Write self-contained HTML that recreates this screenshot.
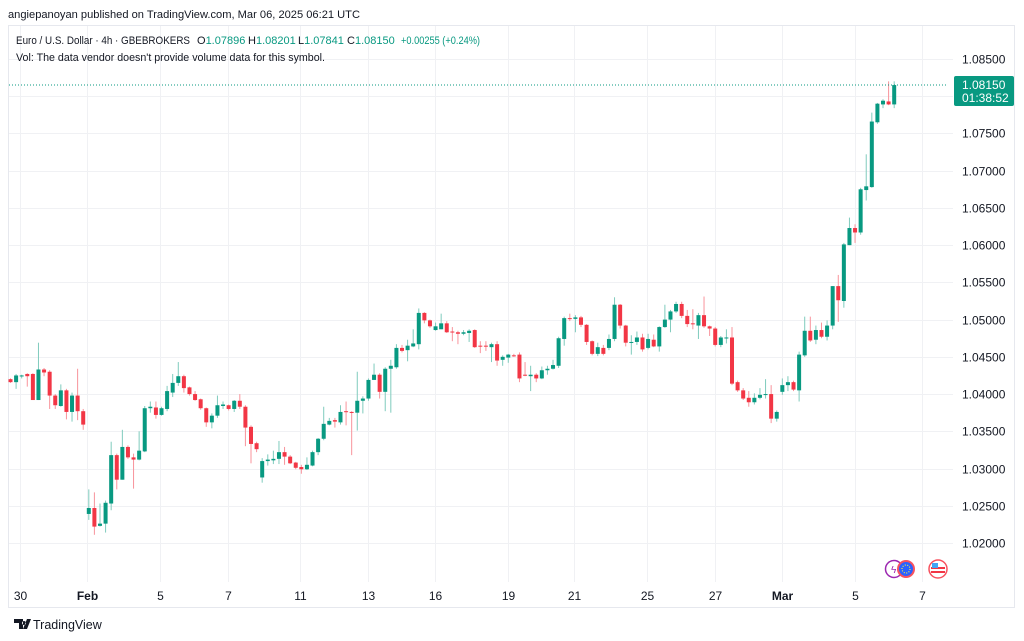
<!DOCTYPE html>
<html><head><meta charset="utf-8">
<style>
html,body{margin:0;padding:0;background:#fff;width:1024px;height:641px;overflow:hidden;font-family:"Liberation Sans","DejaVu Sans",sans-serif;}
svg{position:absolute;left:0;top:0;}
</style></head>
<body>
<svg id="chart" width="1024" height="641" viewBox="0 0 1024 641">
  <rect x="8.5" y="25.5" width="1006" height="582" fill="#fff" stroke="#e6e8ee"/>
  <g id="grid"></g>
  <g id="candles"></g>
  <g id="yaxis"></g>
  <g id="xaxis"></g>
  <text x="8" y="18" font-size="11" fill="#131722" textLength="352" lengthAdjust="spacingAndGlyphs">angiepanoyan published on TradingView.com, Mar 06, 2025 06:21 UTC</text>
  <g font-size="11">
    <text x="16" y="44" fill="#131722" textLength="174" lengthAdjust="spacingAndGlyphs">Euro / U.S. Dollar · 4h · GBEBROKERS</text>
    <text x="197" y="44" fill="#131722">O<tspan fill="#089981">1.07896</tspan></text>
    <text x="248" y="44" fill="#131722">H<tspan fill="#089981">1.08201</tspan></text>
    <text x="298" y="44" fill="#131722">L<tspan fill="#089981">1.07841</tspan></text>
    <text x="347" y="44" fill="#131722">C<tspan fill="#089981">1.08150</tspan></text>
    <text x="401" y="44" fill="#089981" textLength="79" lengthAdjust="spacingAndGlyphs">+0.00255 (+0.24%)</text>
  </g>
  <text x="16" y="61" font-size="11" fill="#131722" textLength="309" lengthAdjust="spacingAndGlyphs">Vol: The data vendor doesn't provide volume data for this symbol.</text>
  <g>
    <circle cx="894" cy="569" r="8.5" fill="#fff" stroke="#9c27b0" stroke-width="1.5"/>
    <text x="891" y="573" font-size="10" fill="#9c27b0">ϟ</text>
    <circle cx="906" cy="569" r="9" fill="#f7525f"/>
    <circle cx="906" cy="569" r="7" fill="#2962ff"/>
    <circle cx="906" cy="569" r="4" fill="none" stroke="#ffeb3b" stroke-width="1.2" stroke-dasharray="1 1.5"/>
    <circle cx="938" cy="569" r="9" fill="#fff" stroke="#f7525f" stroke-width="1.5"/>
    <rect x="932" y="563" width="12" height="12" rx="5" fill="#fff"/>
    <rect x="931" y="567" width="14" height="2" fill="#f23645"/>
    <rect x="931" y="571" width="14" height="2" fill="#f23645"/>
    <rect x="932" y="563" width="6" height="5" fill="#42a5f5"/>
  </g>
  <g>
    <path d="M14 619h9v10h-4v-6h-5z M24 621a2 2 0 1 0 0.01 0 M27 619h4l-4 10h-4z" fill="#131722"/>
    <text x="33" y="629" font-size="12.5" fill="#131722">TradingView</text>
  </g>
</svg>
<script>
const opens = [1.0420,1.0416,1.0424,1.0427,1.0427,1.0392,1.0433,1.0430,1.0398,1.0384,1.0405,1.0376,1.0398,1.0377,1.0239,1.0247,1.0223,1.0226,1.0253,1.0318,1.0285,1.0329,1.0315,1.0312,1.0323,1.0381,1.0382,1.0372,1.0380,1.0402,1.0415,1.0424,1.0409,1.0400,1.0393,1.0381,1.0362,1.0371,1.0384,1.0385,1.0380,1.0391,1.0383,1.0356,1.0334,1.0288,1.0310,1.0311,1.0313,1.0322,1.0316,1.0308,1.0302,1.0299,1.0304,1.0322,1.0340,1.0359,1.0365,1.0362,1.0377,1.0376,1.0375,1.0391,1.0394,1.0419,1.0426,1.0403,1.0434,1.0436,1.0462,1.0459,1.0464,1.0467,1.0509,1.0499,1.0486,1.0487,1.0495,1.0484,1.0483,1.0481,1.0482,1.0486,1.0465,1.0465,1.0463,1.0467,1.0446,1.0449,1.0452,1.0453,1.0426,1.0424,1.0426,1.0421,1.0432,1.0434,1.0438,1.0474,1.0502,1.0501,1.0503,1.0493,1.0471,1.0454,1.0462,1.0462,1.0474,1.0520,1.0492,1.0469,1.0470,1.0476,1.0462,1.0473,1.0464,1.0490,1.0500,1.0511,1.0521,1.0505,1.0495,1.0492,1.0506,1.0491,1.0488,1.0466,1.0475,1.0476,1.0416,1.0405,1.0395,1.0389,1.0395,1.0399,1.0400,1.0367,1.0403,1.0412,1.0416,1.0405,1.0452,1.0485,1.0473,1.0486,1.0477,1.0492,1.0545,1.0525,1.0600,1.0623,1.0617,1.0674,1.0678,1.0765,1.0789,1.0793,1.0789];
const highs = [1.0421,1.0427,1.0426,1.0428,1.0428,1.0469,1.0435,1.0432,1.0400,1.0413,1.0407,1.0402,1.0434,1.0380,1.0272,1.0268,1.0253,1.0257,1.0336,1.0320,1.0352,1.0331,1.0320,1.0350,1.0384,1.0390,1.0390,1.0383,1.0411,1.0427,1.0443,1.0426,1.0410,1.0404,1.0394,1.0382,1.0374,1.0398,1.0390,1.0386,1.0392,1.0400,1.0385,1.0358,1.0336,1.0314,1.0319,1.0324,1.0337,1.0329,1.0318,1.0309,1.0305,1.0315,1.0324,1.0341,1.0383,1.0368,1.0368,1.0385,1.0390,1.0377,1.0430,1.0397,1.0421,1.0441,1.0428,1.0436,1.0446,1.0467,1.0466,1.0473,1.0487,1.0515,1.0510,1.0500,1.0496,1.0508,1.0498,1.0490,1.0485,1.0486,1.0487,1.0487,1.0471,1.0471,1.0469,1.0471,1.0452,1.0454,1.0454,1.0456,1.0443,1.0438,1.0428,1.0437,1.0438,1.0446,1.0477,1.0504,1.0508,1.0506,1.0505,1.0494,1.0472,1.0469,1.0466,1.0480,1.0530,1.0521,1.0493,1.0479,1.0484,1.0481,1.0481,1.0480,1.0491,1.0520,1.0513,1.0524,1.0524,1.0513,1.0514,1.0509,1.0531,1.0492,1.0490,1.0478,1.0487,1.0490,1.0418,1.0408,1.0404,1.0401,1.0408,1.0420,1.0412,1.0378,1.0421,1.0424,1.0418,1.0457,1.0504,1.0504,1.0492,1.0496,1.0499,1.0545,1.0560,1.0603,1.0637,1.0628,1.0677,1.0722,1.0778,1.0791,1.0796,1.0820,1.0820];
const lows = [1.0415,1.0407,1.0421,1.0410,1.0392,1.0392,1.0424,1.0380,1.0380,1.0383,1.0366,1.0363,1.0365,1.0352,1.0231,1.0211,1.0222,1.0214,1.0244,1.0272,1.0285,1.0313,1.0273,1.0311,1.0322,1.0375,1.0367,1.0371,1.0377,1.0396,1.0411,1.0402,1.0398,1.0391,1.0379,1.0356,1.0354,1.0368,1.0380,1.0378,1.0376,1.0380,1.0330,1.0307,1.0322,1.0281,1.0304,1.0306,1.0306,1.0305,1.0306,1.0299,1.0293,1.0298,1.0303,1.0318,1.0338,1.0358,1.0355,1.0359,1.0358,1.0318,1.0351,1.0374,1.0391,1.0419,1.0394,1.0377,1.0375,1.0434,1.0456,1.0444,1.0463,1.0460,1.0495,1.0489,1.0485,1.0487,1.0482,1.0471,1.0467,1.0479,1.0470,1.0462,1.0455,1.0458,1.0443,1.0438,1.0438,1.0442,1.0450,1.0416,1.0424,1.0404,1.0416,1.0420,1.0426,1.0433,1.0435,1.0465,1.0498,1.0483,1.0490,1.0466,1.0452,1.0451,1.0452,1.0459,1.0471,1.0488,1.0464,1.0453,1.0466,1.0457,1.0460,1.0463,1.0457,1.0489,1.0483,1.0509,1.0502,1.0490,1.0487,1.0474,1.0489,1.0478,1.0464,1.0463,1.0468,1.0412,1.0403,1.0392,1.0383,1.0386,1.0393,1.0394,1.0361,1.0363,1.0399,1.0404,1.0404,1.0390,1.0450,1.0470,1.0467,1.0475,1.0472,1.0487,1.0497,1.0516,1.0600,1.0603,1.0614,1.0660,1.0677,1.0763,1.0784,1.0788,1.0784];
const closes = [1.0416,1.0425,1.0425,1.0424,1.0392,1.0433,1.0429,1.0398,1.0385,1.0405,1.0376,1.0398,1.0377,1.0359,1.0247,1.0222,1.0226,1.0254,1.0318,1.0285,1.0329,1.0315,1.0312,1.0324,1.0381,1.0383,1.0372,1.0381,1.0404,1.0415,1.0424,1.0408,1.0400,1.0392,1.0381,1.0362,1.0371,1.0385,1.0386,1.0380,1.0391,1.0383,1.0355,1.0333,1.0326,1.0310,1.0312,1.0313,1.0322,1.0316,1.0307,1.0301,1.0299,1.0305,1.0322,1.0340,1.0360,1.0364,1.0363,1.0376,1.0376,1.0375,1.0391,1.0394,1.0419,1.0426,1.0403,1.0434,1.0438,1.0462,1.0458,1.0465,1.0468,1.0509,1.0499,1.0491,1.0491,1.0495,1.0483,1.0483,1.0481,1.0483,1.0485,1.0463,1.0464,1.0464,1.0467,1.0445,1.0450,1.0453,1.0451,1.0421,1.0425,1.0426,1.0421,1.0432,1.0434,1.0439,1.0475,1.0502,1.0501,1.0503,1.0493,1.0470,1.0454,1.0463,1.0454,1.0474,1.0520,1.0492,1.0469,1.0470,1.0476,1.0460,1.0474,1.0464,1.0490,1.0500,1.0511,1.0521,1.0505,1.0494,1.0494,1.0506,1.0491,1.0488,1.0466,1.0476,1.0476,1.0414,1.0405,1.0394,1.0389,1.0395,1.0399,1.0400,1.0367,1.0376,1.0412,1.0416,1.0406,1.0453,1.0485,1.0472,1.0486,1.0477,1.0492,1.0545,1.0526,1.0601,1.0623,1.0617,1.0675,1.0679,1.0766,1.0790,1.0794,1.0789,1.0815];
const priceTicks = [1.085,1.080,1.075,1.070,1.065,1.060,1.055,1.050,1.045,1.040,1.035,1.030,1.025,1.020];
const timeTickLabels = ["30","Feb","5","7","11","13","16","19","21","25","27","Mar","5","7"];
const timeTickIndex = [1.7,13.7,26.7,38.8,51.7,63.9,75.9,89,100.8,113.8,126,137.9,151,163];
const lastPrice = 1.0815;
const countdown = "01:38:52";

const NS = "http://www.w3.org/2000/svg";
const X0 = 10.5, STEP = 5.593;
function xScale(i){ return X0 + i*STEP; }
function yScale(p){ return 59 + (1.085 - p)*7446; }
function mk(tag, attrs, parent){ const e=document.createElementNS(NS,tag); for(const k in attrs) e.setAttribute(k,attrs[k]); parent.appendChild(e); return e; }

const grid=document.getElementById('grid'), cg=document.getElementById('candles'), ya=document.getElementById('yaxis'), xa=document.getElementById('xaxis');

priceTicks.forEach(p=>{
  const y=Math.round(yScale(p))+0.5;
  const l=mk('line',{x1:9,x2:953,y1:y,y2:y,stroke:'#f0f1f4','stroke-width':1},grid);
  
  
  const t=mk('text',{x:962,y:y+4,'font-size':12,fill:'#131722'},ya);
  t.textContent=p.toFixed(5);
  
  
});
timeTickIndex.forEach((ix,k)=>{
  const x=Math.round(xScale(ix))+0.5;
  const l=mk('line',{x1:x,x2:x,y1:26,y2:582,stroke:'#f0f1f4','stroke-width':1},grid);
  
  
  const lab=timeTickLabels[k];
  const bold=(lab==='Feb'||lab==='Mar');
  const t=mk('text',{x:x,y:600,'font-size':12,fill:'#131722','text-anchor':'middle','font-weight':bold?'bold':'normal'},xa);
  t.textContent=lab;
  
  
});

for(let i=0;i<closes.length;i++){
  const up=closes[i]>=opens[i];
  const col=up?'#089981':'#f23645';
  const wcol=up?'#7fcbbd':'#f8939b';
  const x=xScale(i);
  const w=mk('line',{x1:x,x2:x,y1:yScale(highs[i]),y2:yScale(lows[i]),stroke:wcol,'stroke-width':1},cg);
  
  
  const yt=yScale(Math.max(opens[i],closes[i])), yb=yScale(Math.min(opens[i],closes[i]));
  const b=mk('rect',{x:x-2,y:yt,width:4,height:Math.max(1,yb-yt),fill:col},cg);
  
  
}

const ly=yScale(lastPrice);
const pl=mk('line',{x1:9,x2:948,y1:ly,y2:ly,stroke:'#089981','stroke-width':1,'stroke-dasharray':'1 2'},cg);


const box=mk('rect',{x:954,y:ly-9,width:60,height:30,rx:2,fill:'#089981'},ya);


const t1=mk('text',{x:962,y:ly+4,'font-size':12,fill:'#fff'},ya);
t1.textContent=lastPrice.toFixed(5);


const t2=mk('text',{x:962,y:ly+17,'font-size':12,fill:'#fff'},ya);
t2.textContent=countdown;


</script>
</body></html>
